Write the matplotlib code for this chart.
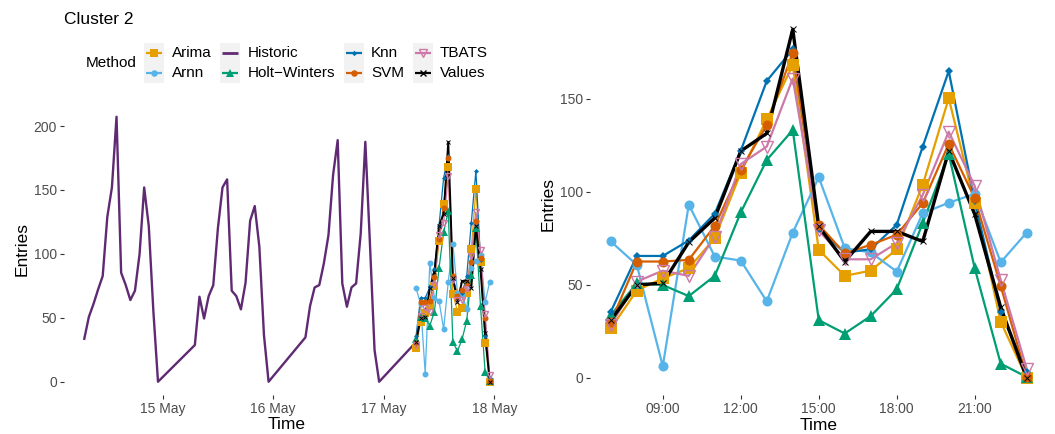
import matplotlib
matplotlib.use("Agg")
import matplotlib.pyplot as plt
import matplotlib.dates as mdates
from matplotlib.patches import Rectangle
from datetime import datetime, timedelta

plt.rcParams['font.family'] = ['Liberation Sans', 'DejaVu Sans']

# ---- data -------------------------------------------------------------
hours = list(range(7, 24))
history_days = [14, 15, 16]
historic_may14 = [33.6, 50.8, 60.8, 72.2, 82.7, 129, 152, 207.3, 85.3, 75.6,
                  63.9, 71.2, 99.9, 152, 121.8, 55, 0]
historic_may15 = [28.7, 66.5, 49.5, 67, 75.6, 120, 152, 158.3, 71.2, 67,
                  56.6, 77.4, 126, 137.4, 105.6, 36.5, 0]
historic_may16 = [34.7, 59.2, 73.8, 75.6, 92.6, 114.7, 161.7, 189, 76.9, 58.7,
                  73.8, 76.9, 116, 187.7, 108.2, 24.8, 0]
historic_may17_start = 31

forecast_day = 17
arima = [26.6, 47, 53.6, 59, 75.2, 110.4, 139, 168.3, 68.9, 54.9, 57.7, 69.2,
         103.8, 150.4, 93.9, 30.2, 0]
arnn = [73.4, 60.8, 6.3, 93.2, 65.3, 63.1, 41.2, 78.2, 107.9, 69.8, 67.5, 57.2,
        88.6, 94.2, 99, 62.2, 78.2]
holt_winters = [33.8, 50.9, 50, 44, 54.9, 89, 117.2, 133.3, 31.1, 23.9, 33.3,
                47.7, 83.3, 120.4, 59, 7.7, 0.5]
knn = [35.6, 65.6, 65.6, 73.9, 88.3, 122.2, 159.7, 176.7, 80, 67.4, 69.2, 82.4,
       124.4, 165, 95, 35.6, 3.2]
svm = [30, 62.6, 62.6, 63.5, 81.8, 111.8, 136, 174.9, 82.4, 67, 71.6, 77,
       94, 125.8, 96.6, 49.5, 0.5]
tbats = [28.4, 51.8, 57.7, 54.9, 76, 115, 124.4, 161, 79.3, 63.8, 63.8, 72.5,
         98.4, 132.4, 103.2, 52.7, 5]
values = [31, 50, 51, 73, 86, 122, 131.5, 187.5, 81.5, 62.6, 78.8, 78.8,
          73.4, 122, 88, 38, 0]

methods = ["Arima", "Arnn", "Holt\u2212Winters", "Knn", "SVM", "TBATS", "Values"]
series = [arima, arnn, holt_winters, knn, svm, tbats, values]
legend_order = ["Arima", "Arnn", "Historic", "Holt\u2212Winters", "Knn", "SVM",
                "TBATS", "Values"]

# ---- styles -----------------------------------------------------------
colors = {"Arima": "#E69F00", "Arnn": "#56B4E9", "Historic": "#5F2A73",
          "Holt\u2212Winters": "#009E73", "Knn": "#0072B2", "SVM": "#D55E00",
          "TBATS": "#CC79A7", "Values": "#000000"}
markers = {"Arima": "s", "Arnn": "o", "Historic": None, "Holt\u2212Winters": "^",
           "Knn": "D", "SVM": "o", "TBATS": "v", "Values": "x"}
open_marker = {"TBATS"}
msize_big = {"Arima": 8.6, "Arnn": 7.2, "Holt\u2212Winters": 8.6, "Knn": 4.2,
             "SVM": 7.2, "TBATS": 8.0, "Values": 4.6}

TXT = "#4D4D4D"


def ts(day, h):
    return datetime(2019, 5, day) + timedelta(hours=h)


hist_t = []
hist_v = []
for d, vals in zip(history_days, [historic_may14, historic_may15, historic_may16]):
    hist_t += [ts(d, h) for h in hours]
    hist_v += vals
hist_t.append(ts(forecast_day, hours[0]))
hist_v.append(historic_may17_start)

fc_t = [ts(forecast_day, h) for h in hours]

W, H = 1055, 434
fig = plt.figure(figsize=(W / 100, H / 100), dpi=100)


def px_axes(x0, x1, y0, y1):
    return fig.add_axes([x0 / W, 1 - y1 / H, (x1 - x0) / W, (y1 - y0) / H])


def expand(lo, hi, f=0.05):
    r = hi - lo
    return lo - f * r, hi + f * r


def style(ax):
    for s in ax.spines.values():
        s.set_visible(False)
    ax.tick_params(axis="both", length=3, width=0.8, color="#333333",
                   labelsize=10, labelcolor=TXT, pad=2)
    ax.set_facecolor("white")


def draw_forecasts(ax, lw, lw_values, msize_scale):
    for name, vals in zip(methods, series):
        ax.plot(fc_t, vals, color=colors[name],
                lw=lw_values if name == "Values" else lw, zorder=2,
                solid_capstyle="butt")
    for name, vals in zip(methods, series):
        ms = msize_big[name] * msize_scale
        if name in open_marker:
            ax.plot(fc_t, vals, ls="none", marker=markers[name], ms=ms,
                    mfc="none", mec=colors[name], mew=1.0, zorder=3)
        elif name == "Values":
            ax.plot(fc_t, vals, ls="none", marker="x", ms=ms,
                    mec=colors[name], mew=0.7, zorder=3)
        else:
            ax.plot(fc_t, vals, ls="none", marker=markers[name], ms=ms,
                    mfc=colors[name], mec=colors[name], mew=0, zorder=3)


# ---- left panel: full history and forecasts ----------------------------
axl = px_axes(64, 510, 103.5, 395)
style(axl)
axl.plot(hist_t, hist_v, color=colors["Historic"], lw=1.7, zorder=1)
draw_forecasts(axl, 0.9, 1.4, 0.6)
xnum = mdates.date2num(hist_t + fc_t)
axl.set_xlim(*expand(min(xnum), max(xnum)))
ymax_l = max(max(hist_v), max(max(s) for s in series))
axl.set_ylim(*expand(0, ymax_l))
axl.set_yticks([0, 50, 100, 150, 200])
axl.xaxis.set_major_locator(mdates.DayLocator(bymonthday=[15, 16, 17, 18]))
axl.xaxis.set_major_formatter(mdates.DateFormatter("%d %b"))
axl.set_xlabel("Time", fontsize=12.5, labelpad=1)
axl.set_ylabel("Entries", fontsize=12.5, labelpad=3)

# ---- right panel: forecast day ------------------------------------------
axr = px_axes(590, 1047.5, 11.8, 395.4)
style(axr)
draw_forecasts(axr, 1.6, 2.4, 1.0)
fnum = mdates.date2num(fc_t)
axr.set_xlim(*expand(min(fnum), max(fnum)))
ymax_r = max(max(s) for s in series)
axr.set_ylim(*expand(0, ymax_r))
axr.set_yticks([0, 50, 100, 150])
axr.xaxis.set_major_locator(mdates.HourLocator(byhour=[9, 12, 15, 18, 21]))
axr.xaxis.set_major_formatter(mdates.DateFormatter("%H:%M"))
axr.set_xlabel("Time", fontsize=12.5, labelpad=1)
axr.set_ylabel("Entries", fontsize=12.5, labelpad=3)

# ---- title and legend ---------------------------------------------------
ov = fig.add_axes([0, 0, 1, 1], facecolor="none")
ov.set_xlim(0, W)
ov.set_ylim(H, 0)
ov.axis("off")

ov.text(64, 19, "Cluster 2", fontsize=12.5, va="center", ha="left")
ov.text(86, 63, "Method", fontsize=11, va="center", ha="left")

key_x = [144, 220, 344, 413]
lab_x = [172, 248, 371, 440]
row_y = [53, 73]
for i, name in enumerate(legend_order):
    col, row = divmod(i, 2)
    kx, ky = key_x[col], row_y[row]
    ov.add_patch(Rectangle((kx, ky - 10), 20, 20, facecolor="#F2F2F2",
                           edgecolor="none"))
    lw = 2.0 if name == "Historic" else 1.6
    ov.plot([kx + 2, kx + 18], [ky, ky], color=colors[name], lw=lw,
            solid_capstyle="butt")
    m = markers[name]
    if m is not None:
        ms = msize_big[name] * 0.65
        if name in open_marker:
            ov.plot([kx + 10], [ky], marker=m, ms=ms, mfc="none",
                    mec=colors[name], mew=1.0)
        elif name == "Values":
            ov.plot([kx + 10], [ky], marker=m, ms=ms * 1.3, mec=colors[name],
                    mew=1.0)
        else:
            ov.plot([kx + 10], [ky], marker=m, ms=ms, mfc=colors[name],
                    mec=colors[name], mew=0)
    ov.text(lab_x[col], ky, name, fontsize=11, va="center", ha="left")

fig.savefig("out.png", dpi=100, facecolor="white")
